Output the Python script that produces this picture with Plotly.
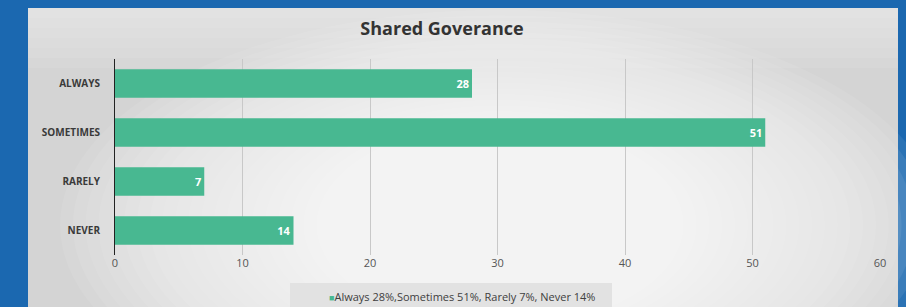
import plotly.graph_objects as go

categories = ["ALWAYS", "SOMETIMES", "RARELY", "NEVER"]
values = [28, 51, 7, 14]
legend_label = "Always 28%,Sometimes 51%, Rarely 7%, Never 14%"
title_text = "Shared Goverance"
x_ticks = [0, 10, 20, 30, 40, 50, 60]

W, H = 906, 307
L, R, T, B = 115, 26, 59, 52
pw = W - L - R
ph = H - T - B
bar_color = "#48b891"


def px_x(x):
    return (x - L) / pw


def px_y(y):
    return (H - B - y) / ph


fig = go.Figure()
fig.add_trace(go.Bar(
    y=categories, x=values, orientation="h",
    marker=dict(color=bar_color, line=dict(width=0)),
    text=[str(v) for v in values], textposition="inside",
    insidetextanchor="end",
    textfont=dict(color="white", size=11, family="Open Sans"),
    texttemplate="<b>%{text}</b>",
    showlegend=False,
))

shapes = [
    dict(type="rect", xref="paper", yref="paper", x0=px_x(28), x1=px_x(898),
         y0=px_y(330), y1=px_y(8), fillcolor="#d4d4d4", line=dict(width=0), layer="below"),
]
# soft white glow approximation: many faint layers
n = 26
for i in range(n):
    f = i / (n - 1)
    cx, cy = 500, 225
    rx = 440 - 320 * f
    ry = 215 - 140 * f
    shapes.append(dict(type="circle", xref="paper", yref="paper",
                       x0=px_x(cx - rx), x1=px_x(cx + rx),
                       y0=px_y(cy + ry), y1=px_y(cy - ry),
                       fillcolor="white", opacity=0.075, line=dict(width=0), layer="below"))
# top light band
for i in range(6):
    shapes.append(dict(type="rect", xref="paper", yref="paper", x0=px_x(28), x1=px_x(898),
                       y0=px_y(8 + 10 * (i + 1)), y1=px_y(8), fillcolor="white", opacity=0.08,
                       line=dict(width=0), layer="below"))
# legend backdrop
shapes.append(dict(type="rect", xref="paper", yref="paper", x0=px_x(290), x1=px_x(612),
                   y0=px_y(320), y1=px_y(283), fillcolor="#e0e0e0", opacity=0.9,
                   line=dict(width=0), layer="below"))

fig.update_layout(
    width=W, height=H,
    margin=dict(l=L, r=R, t=T, b=B, autoexpand=False),
    paper_bgcolor="#1b68b0",
    plot_bgcolor="rgba(0,0,0,0)",
    shapes=shapes,
    title=dict(text="<b>" + title_text + "</b>", x=442 / W, xanchor="center", y=1 - 29 / H, yanchor="middle",
               font=dict(family="Open Sans", size=18, color="#333333")),
    bargap=0.42,
    xaxis=dict(range=[0, 60], tickvals=x_ticks, showgrid=True, gridcolor="#c8c8c8", gridwidth=1,
               zeroline=False, showline=False, ticks="", automargin=False,
               tickfont=dict(family="Open Sans", size=11, color="#555555")),
    yaxis=dict(categoryorder="array", categoryarray=categories[::-1], automargin=False,
               showline=True, linecolor="#222222", linewidth=1, ticks="", ticklen=0,
               tickfont=dict(family="Open Sans", size=10, color="#3a3a3a", weight="bold"),
               ticklabelstandoff=12),
    showlegend=False,
    annotations=[dict(
        xref="paper", yref="paper", x=px_x(462), y=px_y(296), xanchor="center", yanchor="middle",
        showarrow=False,
        text="<span style='color:%s;font-size:9px'>■</span>%s" % (bar_color, legend_label),
        font=dict(family="Open Sans", size=11, color="#404040"),
    )],
    uniformtext=dict(minsize=8, mode="show"),
)

fig.write_html("out.html", config={"displayModeBar": False},
               post_script="document.body.style.margin='0px';document.body.style.overflow='hidden';")
